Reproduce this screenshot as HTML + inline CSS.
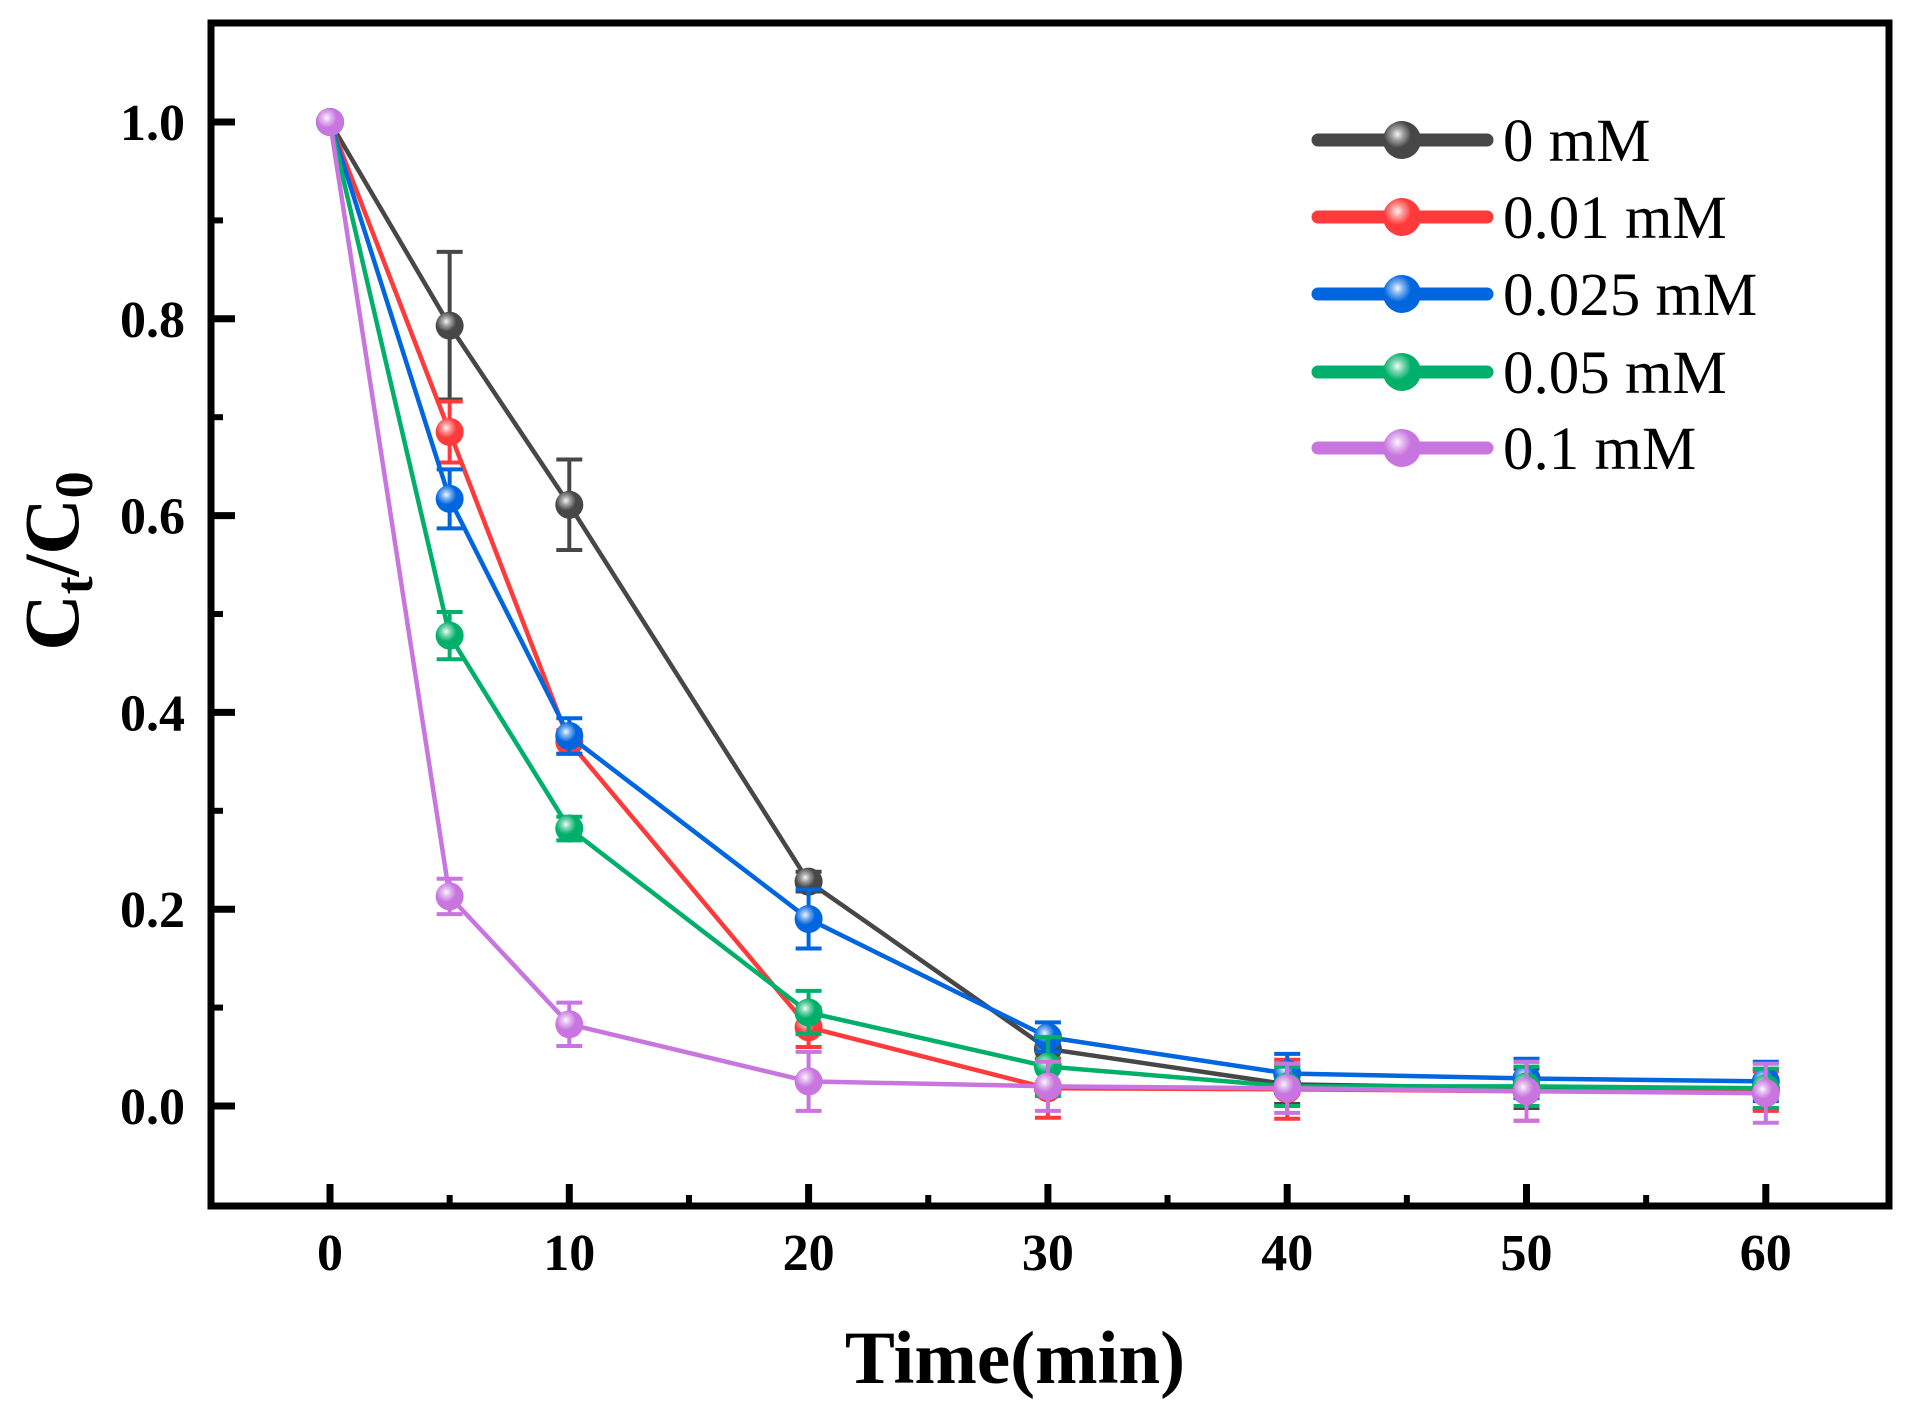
<!DOCTYPE html>
<html><head><meta charset="utf-8"><style>
html,body{margin:0;padding:0;background:#fff;}
svg{display:block;font-family:"Liberation Serif",serif;}
</style></head><body>
<svg id="chart" width="1910" height="1408" viewBox="0 0 1910 1408">
<defs>
<radialGradient id="shine" cx="0.38" cy="0.35" r="0.6">
<stop offset="0" stop-color="#fff" stop-opacity="0.95"/>
<stop offset="0.25" stop-color="#fff" stop-opacity="0.5"/>
<stop offset="0.6" stop-color="#fff" stop-opacity="0"/>
</radialGradient>
</defs>
<g id="grid-layer"></g>
<g id="series-layer"></g>
<rect x="211" y="23" width="1678" height="1183" fill="none" stroke="#000" stroke-width="7"/>
<g id="axis-layer"></g>
<g id="legend-layer"></g>
<text x="1015" y="1383" text-anchor="middle" font-size="75" font-weight="bold">Time(min)</text>
<text transform="translate(78,561) rotate(-90)" text-anchor="middle" font-size="78" font-weight="bold">C<tspan font-size="54" dy="14">t</tspan><tspan dy="-14">/C</tspan><tspan font-size="54" dy="14">0</tspan></text>
</svg>
<script>
const times = [0, 5, 10, 20, 30, 40, 50, 60];
const seriesNames = ["0 mM", "0.01 mM", "0.025 mM", "0.05 mM", "0.1 mM"];
const seriesColors = ["#474747", "#fe3a3a", "#0066e0", "#00b06a", "#c875e0"];
const vals0 = [1, 0.793, 0.611, 0.228, 0.058, 0.022, 0.018, 0.017];
const vals001 = [1, 0.685, 0.37, 0.08, 0.018, 0.017, 0.015, 0.015];
const vals0025 = [1, 0.617, 0.376, 0.19, 0.07, 0.033, 0.028, 0.025];
const vals005 = [1, 0.478, 0.282, 0.095, 0.04, 0.02, 0.02, 0.018];
const vals01 = [1, 0.213, 0.083, 0.025, 0.02, 0.018, 0.015, 0.013];
const err0 = [0, 0.075, 0.046, 0.01, 0.01, 0.02, 0.02, 0.02];
const err001 = [0, 0.031, 0.012, 0.02, 0.03, 0.03, 0.03, 0.02];
const err0025 = [0, 0.03, 0.018, 0.03, 0.015, 0.02, 0.02, 0.02];
const err005 = [0, 0.024, 0.012, 0.022, 0.03, 0.02, 0.02, 0.02];
const err01 = [0, 0.018, 0.022, 0.03, 0.025, 0.025, 0.03, 0.03];
const xTicks = [0, 10, 20, 30, 40, 50, 60];
const xMinor = [5, 15, 25, 35, 45, 55];
const yTicks = [0, 0.2, 0.4, 0.6, 0.8, 1.0];
const yTickLabels = ["0.0", "0.2", "0.4", "0.6", "0.8", "1.0"];
const yMinor = [0.1, 0.3, 0.5, 0.7, 0.9];

const allVals = [vals0, vals001, vals0025, vals005, vals01];
const allErr = [err0, err001, err0025, err005, err01];
const NS = "http://www.w3.org/2000/svg";
function X(t){ return 330 + t * 23.93; }
function Y(v){ return 1106 - v * 984; }
function mk(tag, attrs, parent){
  const e = document.createElementNS(NS, tag);
  for (const k in attrs) e.setAttribute(k, attrs[k]);
  parent.appendChild(e); return e;
}
const axis = document.getElementById('axis-layer');
const FB = 1206, FL = 211;
xTicks.forEach((t, i) => {
  const l = mk('line', {x1: X(t), x2: X(t), y1: FB, y2: FB - 22, stroke: '#000', 'stroke-width': 7}, axis);
  
  
  const tx = mk('text', {x: X(t), y: 1270, 'text-anchor': 'middle', 'font-size': 52, 'font-weight': 'bold'}, axis);
  tx.textContent = String(t);
  
  
});
xMinor.forEach(t => {
  const l = mk('line', {x1: X(t), x2: X(t), y1: FB, y2: FB - 11, stroke: '#000', 'stroke-width': 6}, axis);
  
  
});
yTicks.forEach((v, i) => {
  const l = mk('line', {x1: FL, x2: FL + 24, y1: Y(v), y2: Y(v), stroke: '#000', 'stroke-width': 7}, axis);
  
  
  const tx = mk('text', {x: 185, y: Y(v) + 18, 'text-anchor': 'end', 'font-size': 52, 'font-weight': 'bold'}, axis);
  tx.textContent = yTickLabels[i];
  
  
});
yMinor.forEach(v => {
  const l = mk('line', {x1: FL, x2: FL + 12, y1: Y(v), y2: Y(v), stroke: '#000', 'stroke-width': 6}, axis);
  
  
});
const sl = document.getElementById('series-layer');
allVals.forEach((vals, s) => {
  const g = mk('g', {}, sl);
  
  
  const c = seriesColors[s];
  const pts = vals.map((v, i) => X(times[i]) + ',' + Y(v)).join(' ');
  const pl = mk('polyline', {points: pts, fill: 'none', stroke: c, 'stroke-width': 4.5, 'stroke-linejoin': 'round'}, g);
  
  
  vals.forEach((v, i) => {
    const e = allErr[s][i];
    if (e > 0) {
      const x = X(times[i]);
      const eb = mk('path', {d: `M${x},${Y(v+e)}V${Y(v-e)}M${x-13},${Y(v+e)}H${x+13}M${x-13},${Y(v-e)}H${x+13}`, stroke: c, 'stroke-width': 4, fill: 'none'}, g);
      
      
    }
  });
  vals.forEach((v, i) => {
    const p = mk('circle', {cx: X(times[i]), cy: Y(v), r: 14, fill: c}, g);
    
    
    mk('circle', {cx: X(times[i]), cy: Y(v), r: 14, fill: 'url(#shine)'}, g);
  });
});
const lg = document.getElementById('legend-layer');
const legY = [140, 217, 294, 372, 448];
seriesNames.forEach((n, s) => {
  const g = mk('g', {}, lg);
  
  
  const y = legY[s];
  mk('line', {x1: 1318, x2: 1487, y1: y, y2: y, stroke: seriesColors[s], 'stroke-width': 13, 'stroke-linecap': 'round'}, g);
  mk('circle', {cx: 1402, cy: y, r: 19, fill: seriesColors[s]}, g);
  mk('circle', {cx: 1402, cy: y, r: 19, fill: 'url(#shine)'}, g);
  const t = mk('text', {x: 1503, y: y + 21, 'font-size': 61}, g);
  t.textContent = n;
  
  
});
</script>
</body></html>
